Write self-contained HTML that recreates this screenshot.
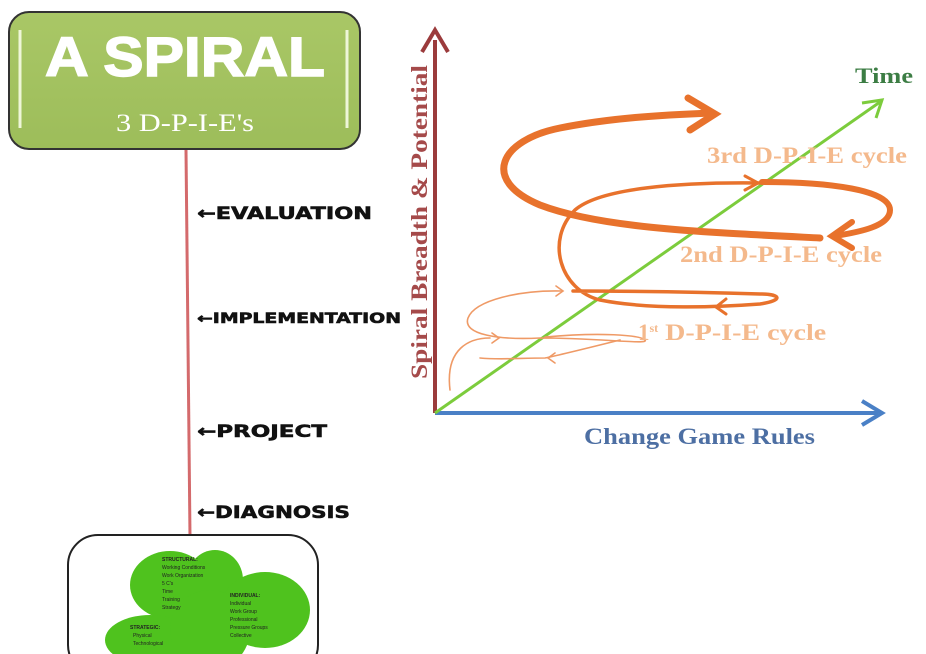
<!DOCTYPE html>
<html><head><meta charset="utf-8"><style>
html,body{margin:0;padding:0;background:#fff;width:926px;height:654px;overflow:hidden}
</style></head><body>
<svg width="926" height="654" viewBox="0 0 926 654" xmlns="http://www.w3.org/2000/svg">
<defs>
<linearGradient id="g" x1="0" y1="0" x2="0" y2="1"><stop offset="0" stop-color="#a9c766"/><stop offset="1" stop-color="#9dbd5a"/></linearGradient>
</defs>
<rect x="9" y="12" width="351" height="137" rx="20" fill="url(#g)" stroke="#333" stroke-width="2"/>
<line x1="20" y1="30" x2="20" y2="128" stroke="#eef6d8" stroke-width="3"/>
<line x1="347" y1="30" x2="347" y2="128" stroke="#eef6d8" stroke-width="3"/>
<text x="45" y="76" textLength="280" lengthAdjust="spacingAndGlyphs" font-family="Liberation Sans, sans-serif" font-weight="bold" font-size="56" fill="#fff" stroke="#fff" stroke-width="1.5">A SPIRAL</text>
<text x="116" y="131" textLength="138" lengthAdjust="spacingAndGlyphs" font-family="Liberation Serif, serif" font-size="25" fill="#fff">3 D-P-I-E's</text>
<line x1="186" y1="150" x2="190" y2="537" stroke="#d46a6c" stroke-width="3"/>
<g font-family="DejaVu Sans, sans-serif" font-weight="bold" fill="#111" stroke="#111" stroke-width="0.6">
<text x="197" y="219" font-size="17" textLength="175" lengthAdjust="spacingAndGlyphs">←EVALUATION</text>
<text x="197" y="323" font-size="14" textLength="204" lengthAdjust="spacingAndGlyphs">←IMPLEMENTATION</text>
<text x="197" y="437" font-size="17" textLength="130" lengthAdjust="spacingAndGlyphs">←PROJECT</text>
<text x="197" y="518" font-size="17" textLength="153" lengthAdjust="spacingAndGlyphs">←DIAGNOSIS</text>
</g>
<rect x="68" y="535" width="250" height="140" rx="30" fill="#fff" stroke="#222" stroke-width="2"/>
<g fill="#4fc21e">
<ellipse cx="170" cy="585" rx="40" ry="34"/>
<ellipse cx="215" cy="580" rx="28" ry="30"/>
<ellipse cx="265" cy="610" rx="45" ry="38"/>
<ellipse cx="150" cy="640" rx="45" ry="25"/>
<ellipse cx="210" cy="630" rx="40" ry="40"/>
</g>
<g font-family="Liberation Sans, sans-serif" font-size="5" fill="#222">
<text x="162" y="561" font-weight="bold">STRUCTURAL:</text>
<text x="162" y="569">Working Conditions</text><text x="162" y="577">Work Organization</text><text x="162" y="585">5 C's</text><text x="162" y="593">Time</text><text x="162" y="601">Training</text><text x="162" y="609">Strategy</text>
<text x="230" y="597" font-weight="bold">INDIVIDUAL:</text>
<text x="230" y="605">Individual</text><text x="230" y="613">Work Group</text><text x="230" y="621">Professional</text><text x="230" y="629">Pressure Groups</text><text x="230" y="637">Collective</text>
<text x="130" y="629" font-weight="bold">STRATEGIC:</text><text x="133" y="637">Physical</text><text x="133" y="645">Technological</text>
</g>
<line x1="435" y1="413" x2="435" y2="40" stroke="#9b3b3c" stroke-width="4"/>
<polyline points="422,52 435,30 448,52" fill="none" stroke="#9b3b3c" stroke-width="4"/>
<line x1="435" y1="413" x2="878" y2="413" stroke="#4a80c6" stroke-width="4"/>
<polyline points="862,401 882,413 862,425" fill="none" stroke="#4a80c6" stroke-width="4"/>
<line x1="435" y1="413" x2="880" y2="102" stroke="#7ccc3c" stroke-width="3"/>
<polyline points="862,103 882,100 876,118" fill="none" stroke="#7ccc3c" stroke-width="3"/>
<text transform="translate(427,222) rotate(-90)" x="-157" textLength="314" lengthAdjust="spacingAndGlyphs" font-family="Liberation Serif, serif" font-weight="bold" font-size="23" fill="#a54a4a">Spiral Breadth &amp; Potential</text>
<text x="855" y="83" textLength="58" lengthAdjust="spacingAndGlyphs" font-family="Liberation Serif, serif" font-weight="bold" font-size="22" fill="#3c7d44">Time</text>
<text x="584" y="444" textLength="231" lengthAdjust="spacingAndGlyphs" font-family="Liberation Serif, serif" font-weight="bold" font-size="23" fill="#4d6fa3">Change Game Rules</text>
<g fill="none" stroke="#e8722c" stroke-linecap="round">
<path d="M820,238 C700,232 600,228 540,205 C480,180 500,140 560,128 C610,118 660,115 712,113" stroke-width="7"/>
<polyline points="688,98 715,114 690,130" stroke-width="7"/>
<path d="M762,182 C830,182 890,190 890,210 C890,226 860,232 835,236" stroke-width="6"/>
<polyline points="852,222 832,236 852,248" stroke-width="6"/>
<path d="M760,183 C680,182 600,188 575,210 C545,240 560,290 600,300 C650,310 720,307 760,304 C785,300 780,294 760,294 C700,292 620,291 573,291" stroke-width="3.5"/>
<polyline points="745,176 758,183 745,190" stroke-width="3"/>
<polyline points="726,299 716,307 726,314" stroke-width="3"/>
</g>
<g fill="none" stroke="#ef9a66" stroke-linecap="round" stroke-width="1.6">
<path d="M562,291 C520,290 475,300 468,318 C462,335 500,340 540,338 C600,338 650,345 645,340 C640,335 600,332 545,337"/>
<polyline points="556,286 563,291 556,296"/>
<path d="M490,338 C470,338 445,348 450,390"/>
<path d="M620,340 C600,345 560,355 545,358 C520,358 500,360 480,358"/>
<polyline points="555,353 548,358 555,363"/>
<polyline points="492,333 499,338 492,343"/>
</g>
<g font-family="Liberation Serif, serif" font-weight="bold" font-size="23" fill="#f4b98c">
<text x="707" y="163" textLength="200" lengthAdjust="spacingAndGlyphs">3rd D-P-I-E cycle</text>
<text x="680" y="262" textLength="202" lengthAdjust="spacingAndGlyphs">2nd D-P-I-E cycle</text>
<text x="638" y="340">1<tspan font-size="12" dy="-8">st</tspan><tspan dy="8" textLength="168" lengthAdjust="spacingAndGlyphs"> D-P-I-E cycle</tspan></text>
</g>
</svg>
</body></html>
